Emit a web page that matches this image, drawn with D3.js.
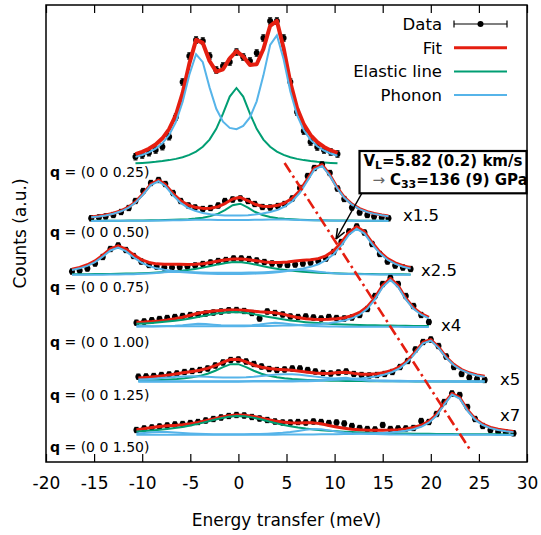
<!DOCTYPE html>
<html><head><meta charset="utf-8">
<script src="https://cdn.jsdelivr.net/npm/d3@7"></script>
<style>body{margin:0;background:#fff} svg text{font-family:"DejaVu Sans",Verdana,sans-serif}</style>
</head><body><svg id="c" width="541" height="535"></svg>
<script>
// ---------- data ----------
const xTicks = [-20,-15,-10,-5,0,5,10,15,20,25,30];
const qLabels = ["(0 0 0.25)","(0 0 0.50)","(0 0 0.75)","(0 0 1.00)","(0 0 1.25)","(0 0 1.50)"];
const scaleLabels = ["","x1.5","x2.5","x4","x5","x7"];

const E1 = [-10.7,-10.0,-9.3,-8.6,-7.9,-7.2,-6.5,-5.8,-5.1,-4.4,-3.7,-3.0,-2.3,-1.6,-0.9,-0.2,0.5,1.2,1.9,2.6,3.3,4.0,4.7,5.4,6.1,6.8,7.5,8.2,8.9,9.6,10.3];
const C1 = [305.3,307,309.3,312,315.3,325.3,345,380,406,422,421,406,392,396,400,410,405,401,409,424,441,441,424,380,350,331,320,315,312,310,308];
const E2 = [-15.3,-14.5,-13.8,-13.0,-12.2,-11.4,-10.7,-9.9,-9.1,-8.3,-7.6,-6.8,-6.0,-5.2,-4.5,-3.7,-2.9,-2.1,-1.4,-0.6,0.2,1.0,1.7,2.5,3.3,4.1,4.8,5.6,6.4,7.2,7.9,8.7,9.5,10.3,11.0,11.8,12.6,13.4,14.1,14.9,15.6];
const C2 = [243.7,244.5,245.5,247,250,254,261,271,279,282,278,269,261,256.5,254.5,253,254,256.5,261,262.5,263.5,261,258,255,254.5,256,258,263.5,274,286,294,297.5,289,273.5,263,254.5,249.5,247,245.5,244.5,243.7];
const E3 = [-17.3,-16.5,-15.7,-14.9,-14.1,-13.3,-12.5,-11.7,-10.9,-10.1,-9.3,-8.5,-7.7,-6.9,-6.1,-5.3,-4.5,-3.7,-2.9,-2.1,-1.3,-0.5,0.3,1.1,1.9,2.7,3.5,4.3,5.1,5.9,6.7,7.5,8.3,9.1,9.9,10.7,11.5,12.3,13.1,13.9,14.7,15.5,16.3,17.1,17.9];
const C3 = [190.5,191.5,193.5,198.5,205,213,216.5,212,206,200.5,197,195.5,194.5,194.5,195,195.5,196.5,198,199.5,201,202,203.5,203.5,203,201.5,200,198.5,197.5,197,197.5,198.5,199.5,201,203.5,210,220,230.5,235.5,229.5,218,208,200.5,196.5,194.5,193];
const E4 = [-10.6,-9.8,-9.0,-8.2,-7.4,-6.6,-5.8,-5.0,-4.2,-3.4,-2.6,-1.8,-1.0,-0.2,0.6,1.4,2.2,3.0,3.8,4.6,5.4,6.2,7.0,7.8,8.6,9.4,10.2,11.0,11.8,12.6,13.4,14.2,15.0,15.8,16.6,17.4,18.2,19.0,19.8];
const C4 = [139.3,140.5,141.7,143,144,145,146,147,147.5,148.5,149.5,150.5,151.7,152,151,149,143.5,150.5,149,147.5,145.5,145,145.5,144.5,143.5,145,144,143.5,144.5,147,153,166,178,184,178,166,156,147,140];
const E5 = [-10.4,-9.6,-8.8,-8.0,-7.2,-6.4,-5.6,-4.8,-4.0,-3.2,-2.4,-1.6,-0.8,0.0,0.8,1.6,2.4,3.2,4.0,4.8,5.6,6.4,7.2,8.0,8.8,9.6,10.4,11.2,12.0,12.8,13.6,14.4,15.2,16.0,16.8,17.6,18.4,19.2,20.0,20.8,21.6,22.4,23.2,24.0,24.8,25.6];
const C5 = [85.3,85.5,86,87,87.5,88.5,90,91,92,93.5,96.5,99.5,102,102.5,100.5,98,95.5,93,92,92.5,93.5,93.5,92,90.5,89,88.5,89.5,90.5,88,87,86.5,87,88,90,95,101,112.5,120,122.5,116,105.5,95,88,84.5,83,82];
const E6 = [-10.6,-9.8,-9.0,-8.2,-7.4,-6.6,-5.8,-5.0,-4.2,-3.4,-2.6,-1.8,-1.0,-0.2,0.6,1.4,2.2,3.0,3.8,4.6,5.4,6.2,7.0,7.8,8.6,9.4,10.2,11.0,11.8,12.6,13.4,14.2,15.0,15.8,16.6,17.4,18.2,19.0,19.8,20.6,21.4,22.2,23.0,23.8,24.6,25.4,26.2,27.0,27.8,28.6];
const C6 = [32,33.5,34.5,35.5,36.5,37.5,38,39,40,41.5,43,44.5,46,47,46.5,45,43.5,42,40.5,39.5,39.5,40,39.5,40.5,40,39,39.5,38.5,36,34,33,32.5,37,33,33.5,33.5,34,41,40,48,60,68.5,67,55,43,36,32,30.3,29.5,28.7];
const energies = [E1,E2,E3,E4,E5,E6];
const counts = [C1,C2,C3,C4,C5,C6];
const errors = [3.2,2.6,2.6,2.6,2.6,2.6];

// fit parameters (vertical offset, elastic line, phonon modes [omega, ampNeg, ampPos, hwhm])
const offsets = [296,241,187,135,80.3,27];
const zeroShift = [-0.2,0.05,-0.1,0,0,0];
const elasticCenter = [-0.2,0,-0.2,-0.5,-0.4,0];
const elasticAmp = [78,17.5,13,15,18,19];
const elasticWidth = [2.0,1.8,4.0,5.2,2.5,5.0];
const phononModes = [
  [[4.05,107,127,1.75]],
  [[8.45,39,55,2.1],[4.0,1.0,1.5,3.0]],
  [[12.45,27,46,2.2],[6.5,3,5,2.5]],
  [[15.8,8,47,1.9],[4.0,3,4,2.0]],
  [[19.8,5,41.5,2.1],[5.2,4.5,7,4.0],[11.0,0,4,1.5]],
  [[22.4,5,41,1.7],[8.0,3,6,2.5]]
];
// dispersion guide line
const dispE = [4.8,24.1];
const dispY = [299,12];

// ---------- drawing ----------
const RED="#e51e10", GREEN="#009e73", BLUE="#56b4e9";
const svg = d3.select("#c");
const x = d3.scaleLinear().domain([-20,30]).range([46,527]);
const y = d3.scaleLinear().domain([0,457]).range([462,5]);
const line = d3.line().x(d=>x(d[0])).y(d=>y(d[1]));
const lor = (e,c,a,g)=> a/(1+((e-c)/g)**2);
const elasticAt = (i,e)=> lor(e,elasticCenter[i],elasticAmp[i],elasticWidth[i]);
const phononAt = (i,m,e)=>{const [w,an,ap,g]=phononModes[i][m]; const z=zeroShift[i]; return lor(e,z-w,an,g)+lor(e,z+w,ap,g);};

const plot = svg.append("g");
energies.forEach((Es,i)=>{
  const g = plot.append("g");
  const pts = Es.map((e,k)=>[e,counts[i][k]]);
  const err = errors[i];
  const eb = g.append("g").attr("stroke","#000").attr("stroke-width",1.1);
  pts.forEach(p=>{
    const xx=x(p[0]);
    eb.append("line").attr("x1",xx).attr("x2",xx).attr("y1",y(p[1]-err)).attr("y2",y(p[1]+err));
    eb.append("line").attr("x1",xx-2).attr("x2",xx+2).attr("y1",y(p[1]-err)).attr("y2",y(p[1]-err));
    eb.append("line").attr("x1",xx-2).attr("x2",xx+2).attr("y1",y(p[1]+err)).attr("y2",y(p[1]+err));
  });
  g.append("g").selectAll("circle").data(pts).join("circle")
    .attr("cx",d=>x(d[0])).attr("cy",d=>y(d[1])).attr("r",3).attr("fill","#000");
  const fit = Es.map(e=>{let s=offsets[i]+elasticAt(i,e); phononModes[i].forEach((_,m)=>s+=phononAt(i,m,e)); return [e,s];});
  g.append("path").attr("d",line(fit)).attr("fill","none").attr("stroke",RED)
    .attr("stroke-width", i===0?4:3).attr("stroke-linejoin","round");
  g.append("path").attr("d",line(Es.map(e=>[e,offsets[i]+elasticAt(i,e)])))
    .attr("fill","none").attr("stroke",GREEN).attr("stroke-width",2);
  phononModes[i].forEach((_,m)=>{
    g.append("path").attr("d",line(Es.map(e=>[e,offsets[i]+phononAt(i,m,e)])))
      .attr("fill","none").attr("stroke",BLUE).attr("stroke-width",2);
  });
});

// dispersion dash-dot line
svg.append("path").attr("d",line(dispE.map((e,k)=>[e,dispY[k]])))
  .attr("fill","none").attr("stroke",RED).attr("stroke-width",2.6)
  .attr("stroke-dasharray","11,4,2.5,4");

// frame
svg.append("rect").attr("x",46).attr("y",5).attr("width",481).attr("height",457)
  .attr("fill","none").attr("stroke","#000").attr("stroke-width",1.5);

// axes
const gx = svg.append("g").attr("transform","translate(0,462)")
  .call(d3.axisBottom(x).tickValues(xTicks).tickSize(-8).tickPadding(15).tickFormat(d=>String(d)));
gx.select(".domain").remove();
gx.attr("font-size",17).attr("font-family","DejaVu Sans");
gx.selectAll("line").attr("stroke-width",1.2);
const gt = svg.append("g").attr("transform","translate(0,5)")
  .call(d3.axisTop(x).tickValues(xTicks).tickSize(-8).tickFormat(""));
gt.select(".domain").remove();
gt.selectAll("line").attr("stroke-width",1.2);

svg.append("text").attr("x",286.5).attr("y",526).attr("text-anchor","middle")
  .attr("font-size",17).text("Energy transfer (meV)");
svg.append("text").attr("transform","translate(26,233.5) rotate(-90)").attr("text-anchor","middle")
  .attr("font-size",17).text("Counts (a.u.)");

// q labels
const qLabelY = [171.7,231.7,286.7,341.7,395,446.7];
qLabels.forEach((q,i)=>{
  const t = svg.append("text").attr("x",50).attr("y",qLabelY[i]).attr("dy","0.36em").attr("font-size",14);
  t.append("tspan").attr("font-weight","bold").text("q");
  t.append("tspan").text(" = "+q);
});
// scale labels
const scalePos = [null,[403,215],[421,270],[441,325],[500,379],[500,415]];
scaleLabels.forEach((s,i)=>{
  if(!s) return;
  svg.append("text").attr("x",scalePos[i][0]).attr("y",scalePos[i][1]).attr("dy","0.36em")
    .attr("font-size",16.5).text(s);
});

// legend
const legendNames = ["Data","Fit","Elastic line","Phonon"];
const legY = [24,47.7,71.4,95];
const lx1=454, lx2=507;
legendNames.forEach((n,i)=>{
  svg.append("text").attr("x",442).attr("y",legY[i]).attr("dy","0.36em").attr("text-anchor","end")
    .attr("font-size",16.5).text(n);
});
const lg = svg.append("g");
lg.append("line").attr("x1",lx1).attr("x2",lx2).attr("y1",legY[0]).attr("y2",legY[0]).attr("stroke","#000").attr("stroke-width",1.2);
[lx1,lx2].forEach(xx=>lg.append("line").attr("x1",xx).attr("x2",xx).attr("y1",legY[0]-3.5).attr("y2",legY[0]+3.5).attr("stroke","#000").attr("stroke-width",1.2));
lg.append("circle").attr("cx",(lx1+lx2)/2).attr("cy",legY[0]).attr("r",3).attr("fill","#000");
[[RED,3],[GREEN,2],[BLUE,2]].forEach((c,k)=>{
  lg.append("line").attr("x1",lx1).attr("x2",lx2).attr("y1",legY[k+1]).attr("y2",legY[k+1]).attr("stroke",c[0]).attr("stroke-width",c[1]);
});

// annotation box
const box = {e1:12.59, e2:29.95, y1:311, y2:268.7};
svg.append("rect").attr("x",x(box.e1)).attr("y",y(box.y1)).attr("width",x(box.e2)-x(box.e1))
  .attr("height",y(box.y2)-y(box.y1)).attr("fill","#fff").attr("stroke","#000").attr("stroke-width",2.2);
const t1 = svg.append("text").attr("x",x(13.0)).attr("y",y(296.5)).attr("font-size",15).attr("font-weight","bold");
t1.append("tspan").text("V");
t1.append("tspan").attr("font-size",11).attr("dy",3).text("L");
t1.append("tspan").attr("dy",-3).text("=5.82 (0.2) km/s");
const t2 = svg.append("text").attr("x",x(13.95)).attr("y",y(277)).attr("font-size",15);
t2.append("tspan").attr("fill","#666").text("\u2192 ");
t2.append("tspan").attr("font-weight","bold").text("C");
t2.append("tspan").attr("font-weight","bold").attr("font-size",11).attr("dy",3).text("33");
t2.append("tspan").attr("font-weight","bold").attr("dy",-3).text("=136 (9) GPa");

// arrow
const a0=[x(12.85),y(269)], a1=[x(10.15),y(223)];
svg.append("line").attr("x1",a0[0]).attr("y1",a0[1]).attr("x2",a1[0]).attr("y2",a1[1]).attr("stroke","#000").attr("stroke-width",1.5);
const ang = Math.atan2(a1[1]-a0[1],a1[0]-a0[0]);
[-0.38,0.38].forEach(da=>{
  svg.append("line").attr("x1",a1[0]).attr("y1",a1[1])
    .attr("x2",a1[0]-11*Math.cos(ang+da)).attr("y2",a1[1]-11*Math.sin(ang+da))
    .attr("stroke","#000").attr("stroke-width",1.5);
});
</script></body></html>
